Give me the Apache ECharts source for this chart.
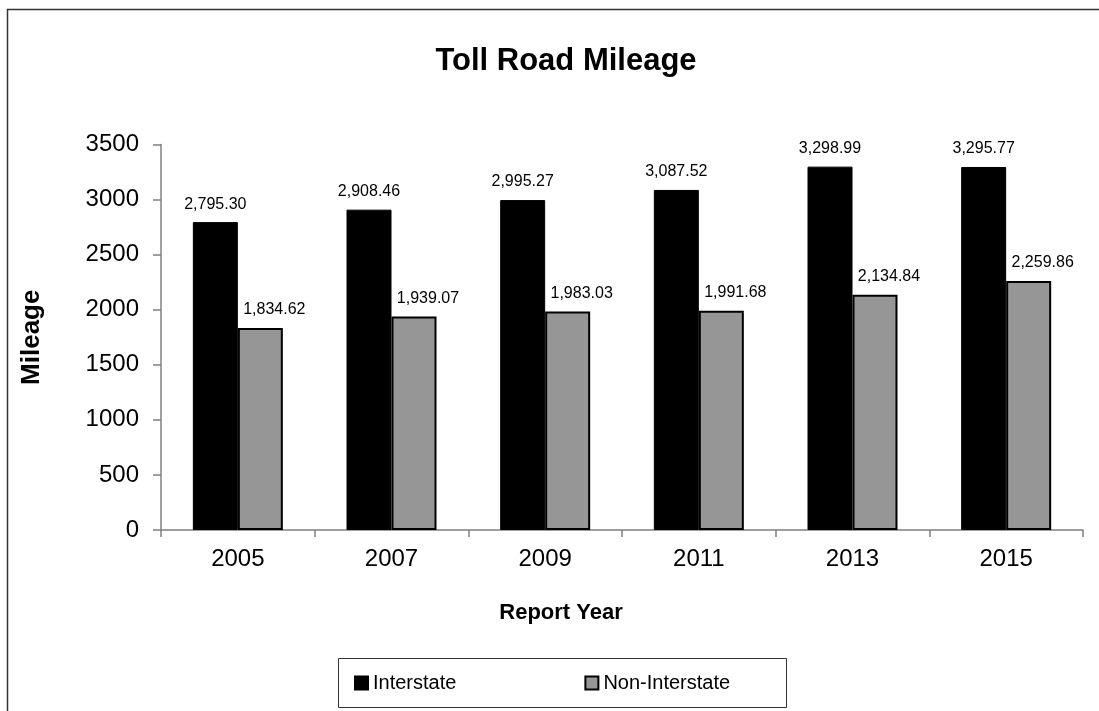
<!DOCTYPE html>
<html>
<head>
<meta charset="utf-8">
<script src="https://cdn.jsdelivr.net/npm/echarts@6/dist/echarts.min.js"></script>
<style>
html,body{margin:0;padding:0;background:#fff;}
#chart{width:1099px;height:711px;}
</style>
</head>
<body>
<div id="chart"></div>
<script>
var categories = ['2005', '2007', '2009', '2011', '2013', '2015'];
var interstate = [2795.30, 2908.46, 2995.27, 3087.52, 3298.99, 3295.77];
var nonInterstate = [1834.62, 1939.07, 1983.03, 1991.68, 2134.84, 2259.86];
var yTicks = [0, 500, 1000, 1500, 2000, 2500, 3000, 3500];

var FONT = '"Liberation Sans", Arial, sans-serif';
function fmt(v) {
  return v.toLocaleString('en-US', {minimumFractionDigits: 2, maximumFractionDigits: 2});
}

var chart = echarts.init(document.getElementById('chart'));
chart.setOption({
  animation: false,
  backgroundColor: '#fff',
  textStyle: {fontFamily: FONT, color: '#000'},
  title: {
    text: 'Toll Road Mileage',
    left: 561, top: 41,
    textAlign: 'center',
    textStyle: {fontFamily: FONT, fontSize: 31, fontWeight: 'bold', color: '#000'}
  },
  graphic: [{
    type: 'rect',
    shape: {x: 7.5, y: 9.5, width: 1300, height: 900},
    style: {fill: 'none', stroke: '#333', lineWidth: 1.5},
    silent: true
  }, {
    type: 'rect',
    shape: {x: 338.5, y: 658.5, width: 448, height: 49},
    style: {fill: 'none', stroke: '#333', lineWidth: 1},
    silent: true
  }],
  legend: {
    left: 354,
    top: 673,
    padding: 0,
    itemWidth: 13, itemHeight: 13, itemGap: 128,
    icon: 'rect',
    textStyle: {fontFamily: FONT, fontSize: 20, color: '#000'},
    data: ['Interstate', 'Non-Interstate']
  },
  grid: {left: 161, right: 16, top: 144.5, bottom: 181, containLabel: false},
  xAxis: {
    type: 'category',
    data: categories,
    name: 'Report Year',
    nameLocation: 'middle',
    nameGap: 72,
    nameTextStyle: {fontFamily: FONT, fontSize: 22, fontWeight: 'bold', color: '#000', padding: [0, 122, 0, 0]},
    axisLine: {lineStyle: {color: '#808080', width: 1.5}},
    axisTick: {show: true, inside: false, length: 7, alignWithLabel: false, lineStyle: {color: '#808080', width: 1.5}},
    axisLabel: {fontFamily: FONT, fontSize: 24, color: '#000', margin: 17}
  },
  yAxis: {
    type: 'value',
    min: 0, max: 3500, interval: 500,
    name: 'Mileage',
    nameLocation: 'middle',
    nameGap: 116,
    nameRotate: 90,
    nameTextStyle: {fontFamily: FONT, fontSize: 26, fontWeight: 'bold', color: '#000'},
    axisLine: {show: true, lineStyle: {color: '#808080', width: 1.5}},
    axisTick: {show: true, inside: false, length: 8, lineStyle: {color: '#808080', width: 1.5}},
    splitLine: {show: false},
    axisLabel: {
      fontFamily: FONT, fontSize: 24, color: '#000', margin: 22,
      formatter: function (v) { return yTicks.indexOf(v) >= 0 ? String(v) : ''; }
    }
  },
  series: [{
    name: 'Interstate',
    type: 'bar',
    data: interstate,
    barWidth: 45,
    barGap: '0%',
    itemStyle: {color: '#000', borderColor: '#000', borderWidth: 1},
    label: {
      show: true, position: 'top', distance: 10,
      fontFamily: FONT, fontSize: 16, color: '#000',
      formatter: function (p) { return fmt(p.value); }
    }
  }, {
    name: 'Non-Interstate',
    type: 'bar',
    data: nonInterstate,
    barWidth: 45,
    barGap: '0%',
    itemStyle: {color: '#969696', borderColor: '#000', borderWidth: 2},
    label: {
      show: true, position: 'top', distance: 10, offset: [14, 0],
      fontFamily: FONT, fontSize: 16, color: '#000',
      formatter: function (p) { return fmt(p.value); }
    }
  }]
});
</script>
</body>
</html>
